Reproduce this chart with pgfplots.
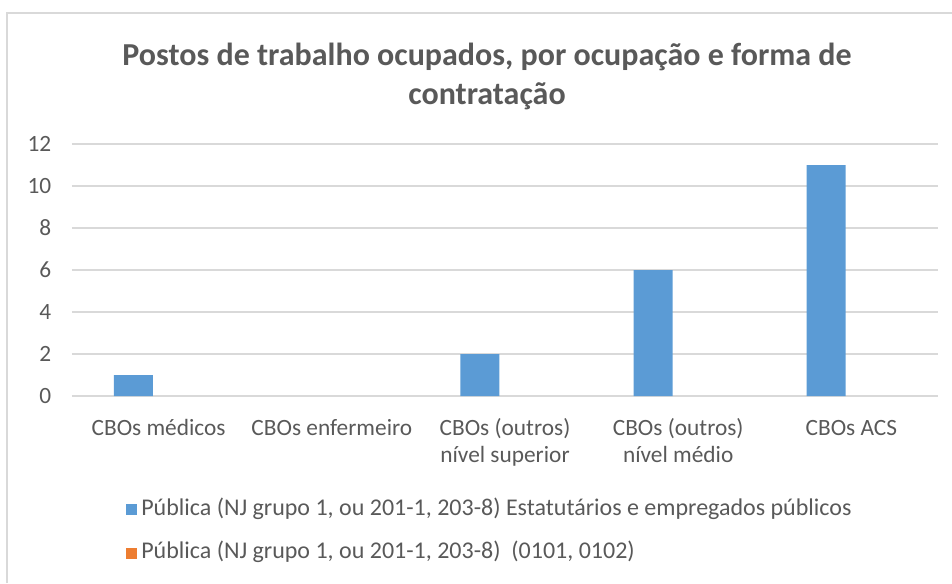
\documentclass[border=0pt]{standalone}
\usepackage{pgfplots}
\pgfplotsset{compat=1.18}
\usepackage{fontspec}
\setmainfont{Carlito}
\definecolor{txt}{HTML}{595959}
\definecolor{grd}{HTML}{D9D9D9}
\definecolor{sblue}{HTML}{5B9BD5}
\definecolor{sorange}{HTML}{ED7D31}
\begin{document}
\begin{tikzpicture}[x=0.75pt,y=0.75pt]
\begin{axis}[
  scale only axis, width=649.5pt, height=189pt,
  ybar=8.5pt, bar width=29.25pt,
  xmin=-0.5, xmax=4.5, ymin=0, ymax=12,
  ytick={0,2,...,12},
  xtick={0,1,2,3,4},
  xticklabels={{\strut CBOs médicos}, {\strut CBOs enfermeiro}, {\strut CBOs (outros)\\nível superior}, {\strut CBOs (outros)\\nível médio}, {\strut CBOs ACS}},
  axis line style={draw=none},
  major tick length=0pt,
  ymajorgrids, grid style={grd, line width=1.5pt},
  tick label style={text=txt, font=\fontsize{17.5}{20.25}\selectfont},
  xticklabel style={align=center, anchor=north, yshift=-12pt},
  yticklabel style={anchor=east, xshift=-12pt},
  /pgf/number format/assume math mode=true,
  legend style={draw=none, fill=none, at={(0.0624,-0.538)}, anchor=west,
    font=\fontsize{18}{20}\selectfont, text=txt, inner sep=0pt, row sep=15pt,
    nodes={inner sep=0pt, text height=13pt, text depth=4.5pt}},
  legend cell align=left,
  legend image code/.code={\fill[#1] (0pt,-4.1pt) rectangle (8.25pt,4.1pt);},
]
\addplot[fill=sblue, draw=none, restrict y to domain=0.001:100] coordinates {(0,1) (1,0) (2,2) (3,6) (4,11)};
\addplot[fill=sorange, draw=none, opacity=0, legend image post style={opacity=1}] coordinates {(0,0) (1,0) (2,0) (3,0) (4,0)};
\legend{{\,Pública (NJ grupo 1, ou 201-1, 203-8) Estatutários e empregados públicos},
        {\,Pública (NJ grupo 1, ou 201-1, 203-8)\ \ (0101, 0102)}}
\coordinate (O) at (rel axis cs:0,0);
\end{axis}
\pgfresetboundingbox
\begin{scope}[shift={(O)}]
\path[use as bounding box] (-72,-187) rectangle (880,396);
\draw[grd, line width=1.5pt] (-65,-187) -- (-65,383) -- (880,383);
\node[font=\fontsize{24}{29}\selectfont\bfseries, text=txt, align=center] at (415,319.5)
  {Postos de trabalho ocupados, por ocupação e forma de\\contratação};
\end{scope}
\end{tikzpicture}
\end{document}
